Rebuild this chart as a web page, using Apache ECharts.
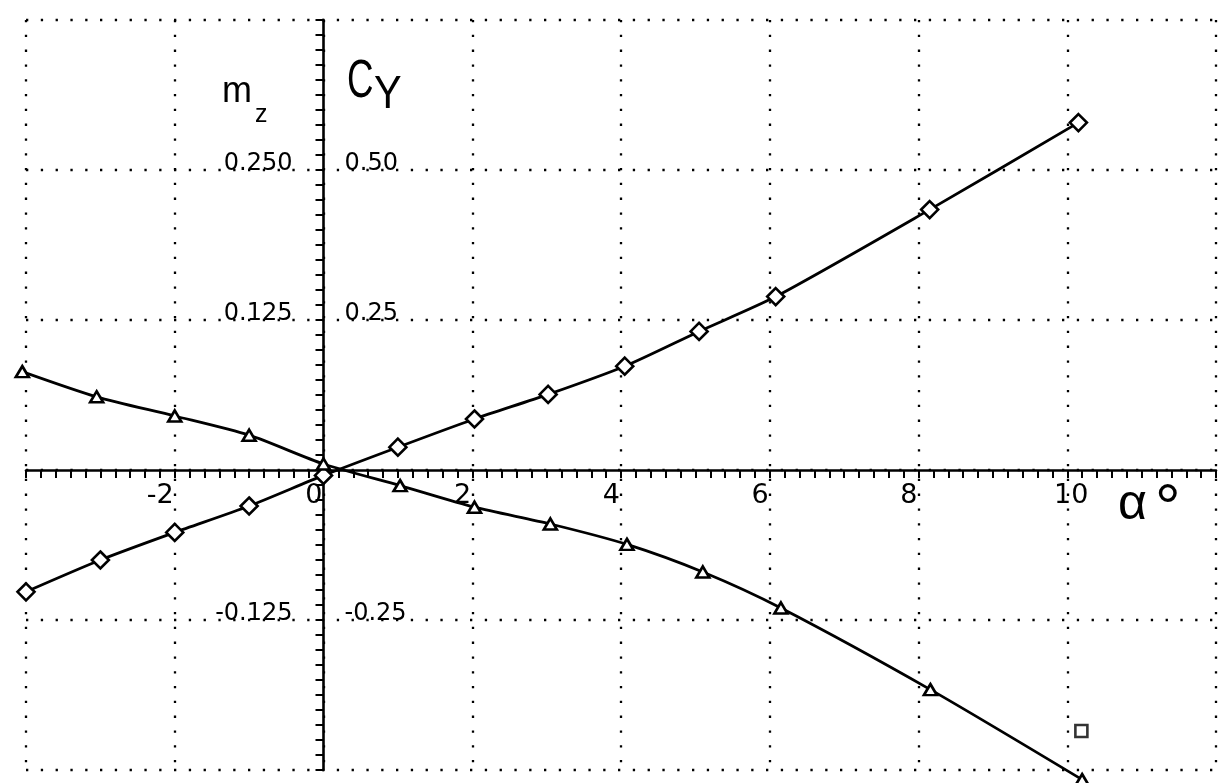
<!DOCTYPE html>
<html>
<head>
<meta charset="utf-8">
<script src="https://cdn.jsdelivr.net/npm/echarts@6/dist/echarts.min.js"></script>
<style>
html,body{margin:0;padding:0;background:#fff;}
#chart{width:1225px;height:783px;}
</style>
</head>
<body>
<div id="chart"></div>
<script>
// ---- data ----
const alphaCy  = [-4, -3, -2, -1, 0, 1, 2.03, 3.02, 4.05, 5.05, 6.08, 8.15, 10.15];
const cyValues = [-0.203, -0.15, -0.104, -0.06, -0.009, 0.038, 0.085, 0.126, 0.173, 0.231, 0.289, 0.434, 0.579];
const alphaMz  = [-4.05, -3.05, -2, -1, 0, 1.03, 2.03, 3.05, 4.08, 5.1, 6.15, 8.16, 10.2];
const mzValues = [0.082, 0.061, 0.045, 0.029, 0.005, -0.013, -0.031, -0.045, -0.062, -0.085, -0.115, -0.183, -0.258];
const extraAlpha = [10.19];
const extraMz    = [-0.2175];
const xTickLabels     = ['-2', '0', '2', '4', '6', '8'];
const xTickLabelsWide = ['10'];
const mzTickLabels = ['0.250', '0.125', '-0.125'];
const cyTickLabels = ['0.50', '0.25', '-0.25'];

const X_MIN = -4, X_MAX = 12, X_STEP = 2;
const MZ_MIN = -0.25, MZ_MAX = 0.375, MZ_STEP = 0.125;
const CY_MIN = -0.5, CY_MAX = 0.75, CY_STEP = 0.25;

const G = { left: 26, right: 9, top: 20, bottom: 13 };
const W = 1225, H = 783;
const gw = W - G.left - G.right, gh = H - G.top - G.bottom;
// offsets that bring the label-only axes onto the zero lines
const xLabelOffset = -gh * (0 - MZ_MIN) / (MZ_MAX - MZ_MIN);
const yLeftOffset  = -gw * (0 - X_MIN) / (X_MAX - X_MIN);
const yRightOffset = -gw * (X_MAX - 0) / (X_MAX - X_MIN);

const zip = (a, b) => a.map((v, i) => [v, b[i]]);
const dotted = { color: '#000', width: 2.3, type: [2.3, 12.5] };
const black = '#000';
const TICK_FONT = 'DejaVu Sans';

function xLabelAxis(list, align, padding) {
  return {
    type: 'value', min: X_MIN, max: X_MAX, interval: X_STEP, position: 'bottom', offset: xLabelOffset,
    axisLine: { show: false, onZero: false }, axisTick: { show: false }, splitLine: { show: false },
    axisLabel: {
      margin: 12, fontFamily: TICK_FONT, fontSize: 27, color: black, align: align, padding: padding,
      formatter: v => { const s = String(Math.round(v)); return list.includes(s) ? s : ''; }
    }
  };
}

const chart = echarts.init(document.getElementById('chart'), null, { renderer: 'canvas' });
chart.setOption({
  animation: false,
  backgroundColor: '#fff',
  grid: { left: G.left, right: G.right, top: G.top, bottom: G.bottom, containLabel: false, outerBoundsMode: 'none' },
  xAxis: [
    {
      type: 'value', min: X_MIN, max: X_MAX, interval: X_STEP,
      axisLine: { show: true, onZero: true, onZeroAxisIndex: 0, lineStyle: { color: black, width: 2.6 } },
      axisTick: { show: true, length: 8, lineStyle: { color: black, width: 2 } },
      minorTick: { show: true, splitNumber: 10, length: 8, lineStyle: { color: black, width: 2 } },
      splitLine: { show: true, lineStyle: dotted },
      axisLabel: { show: false }
    },
    xLabelAxis(xTickLabels, 'right', [0, 1, 0, 0]),
    xLabelAxis(xTickLabelsWide, 'center', [0, 0, 0, 8])
  ],
  yAxis: [
    {
      type: 'value', min: MZ_MIN, max: MZ_MAX, interval: MZ_STEP, position: 'left',
      axisLine: { show: true, onZero: true, onZeroAxisIndex: 0, lineStyle: { color: black, width: 2.6 } },
      axisTick: { show: true, length: 8, lineStyle: { color: black, width: 2 } },
      minorTick: { show: true, splitNumber: 10, length: 8, lineStyle: { color: black, width: 2 } },
      splitLine: { show: true, lineStyle: dotted },
      axisLabel: { show: false }
    },
    {
      type: 'value', min: CY_MIN, max: CY_MAX, interval: CY_STEP, position: 'right',
      axisLine: { show: false }, axisTick: { show: false }, splitLine: { show: false },
      axisLabel: { show: false }
    },
    {
      type: 'value', min: MZ_MIN, max: MZ_MAX, interval: MZ_STEP, position: 'left', offset: yLeftOffset,
      axisLine: { show: false, onZero: false }, axisTick: { show: false }, splitLine: { show: false },
      axisLabel: {
        margin: 31, fontFamily: TICK_FONT, fontSize: 24, color: black,
        verticalAlign: 'bottom', lineHeight: 12,
        formatter: v => { const s = v.toFixed(3); return mzTickLabels.includes(s) ? s : ''; }
      }
    },
    {
      type: 'value', min: CY_MIN, max: CY_MAX, interval: CY_STEP, position: 'right', offset: yRightOffset,
      axisLine: { show: false, onZero: false }, axisTick: { show: false }, splitLine: { show: false },
      axisLabel: {
        margin: 21, fontFamily: TICK_FONT, fontSize: 24, color: black,
        verticalAlign: 'bottom', lineHeight: 12,
        formatter: v => { const s = v.toFixed(2); return cyTickLabels.includes(s) ? s : ''; }
      }
    }
  ],
  series: [
    {
      name: 'Cy', type: 'line', yAxisIndex: 1, data: zip(alphaCy, cyValues),
      smooth: 0.25, clip: false, z: 5,
      symbol: 'diamond', symbolSize: [17, 17],
      lineStyle: { color: black, width: 2.8 },
      itemStyle: { color: '#fff', borderColor: black, borderWidth: 2.6 }
    },
    {
      name: 'mz', type: 'line', yAxisIndex: 0, data: zip(alphaMz, mzValues),
      smooth: 0.25, clip: false, z: 5,
      symbol: 'triangle', symbolSize: [13, 11],
      lineStyle: { color: black, width: 2.8 },
      itemStyle: { color: '#fff', borderColor: black, borderWidth: 2.6 }
    },
    {
      name: 'extra', type: 'scatter', yAxisIndex: 0, data: zip(extraAlpha, extraMz),
      clip: false, z: 5, symbol: 'rect', symbolSize: 12,
      itemStyle: { color: '#fff', borderColor: black, borderWidth: 2.6 }
    }
  ],
  graphic: [
    { type: 'text', left: 222, top: 74, style: { text: 'm', font: '36px "Liberation Sans"', fill: black } },
    { type: 'text', left: 255, top: 103, style: { text: 'z', font: '25px "Liberation Sans"', fill: black } },
    { type: 'text', x: 347, y: 55, scaleX: 0.68, style: { text: 'C', font: '54px "Liberation Sans"', fill: black } },
    { type: 'text', x: 374, y: 72, scaleX: 0.9, style: { text: 'Y', font: '46px "Liberation Sans"', fill: black } },
    { type: 'text', left: 1118, top: 480, style: { text: 'α', font: '50px "Liberation Sans"', fill: black } },
    { type: 'text', left: 1155, top: 479, style: { text: '°', font: '64px "Liberation Sans"', fill: black } }
  ]
});
</script>
</body>
</html>
